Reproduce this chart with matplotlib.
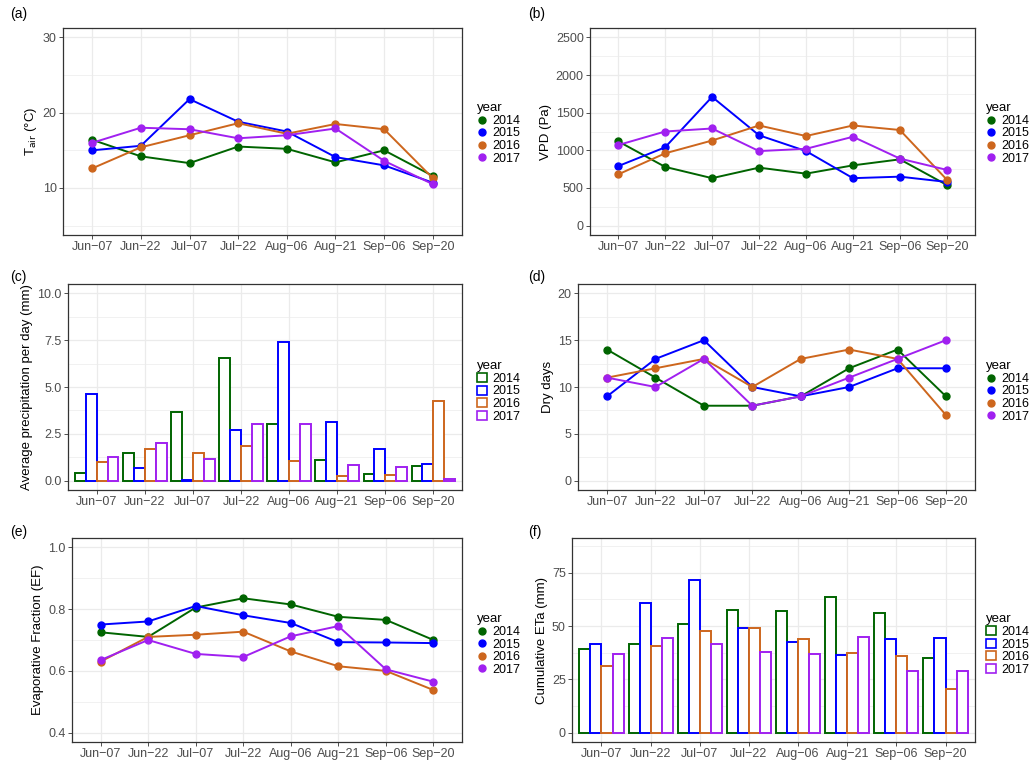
import numpy as np
import matplotlib
matplotlib.use("Agg")
import matplotlib.pyplot as plt
from matplotlib.patches import Patch
from matplotlib.lines import Line2D

plt.rcParams["font.family"] = ["Liberation Sans", "DejaVu Sans"]

dates = ["Jun\u221207", "Jun\u221222", "Jul\u221207", "Jul\u221222", "Aug\u221206", "Aug\u221221", "Sep\u221206", "Sep\u221220"]
years = ["2014", "2015", "2016", "2017"]
colors = ["#006400", "#0000FF", "#CD661D", "#A020F0"]

tair = {
    "2014": [16.4, 14.2, 13.3, 15.5, 15.2, 13.4, 15.0, 11.6],
    "2015": [15.0, 15.6, 21.8, 18.8, 17.5, 14.1, 13.0, 10.7],
    "2016": [12.6, 15.4, 17.0, 18.6, 17.2, 18.5, 17.8, 11.3],
    "2017": [16.0, 18.0, 17.8, 16.6, 17.0, 17.9, 13.6, 10.5],
}
vpd = {
    "2014": [1120, 780, 630, 770, 690, 800, 880, 540],
    "2015": [790, 1040, 1710, 1200, 990, 630, 650, 580],
    "2016": [680, 960, 1130, 1330, 1190, 1330, 1270, 610],
    "2017": [1070, 1250, 1290, 990, 1020, 1180, 890, 740],
}
precip = {
    "2014": [0.4, 1.5, 3.65, 6.55, 3.05, 1.1, 0.35, 0.8],
    "2015": [4.65, 0.65, 0.05, 2.7, 7.4, 3.15, 1.7, 0.9],
    "2016": [1.0, 1.7, 1.5, 1.85, 1.05, 0.25, 0.3, 4.25],
    "2017": [1.25, 2.0, 1.15, 3.0, 3.05, 0.85, 0.75, 0.1],
}
dry = {
    "2014": [14, 11, 8, 8, 9, 12, 14, 9],
    "2015": [9, 13, 15, 10, 9, 10, 12, 12],
    "2016": [11, 12, 13, 10, 13, 14, 13, 7],
    "2017": [11, 10, 13, 8, 9, 11, 13, 15],
}
ef = {
    "2014": [0.725, 0.71, 0.805, 0.835, 0.815, 0.775, 0.765, 0.70],
    "2015": [0.75, 0.76, 0.81, 0.78, 0.755, 0.693, 0.692, 0.69],
    "2016": [0.63, 0.71, 0.717, 0.727, 0.663, 0.615, 0.60, 0.538],
    "2017": [0.635, 0.70, 0.655, 0.645, 0.712, 0.745, 0.605, 0.565],
}
eta = {
    "2014": [39.5, 41.5, 51, 57.5, 57.2, 63.8, 56.3, 35],
    "2015": [41.5, 61, 71.5, 49, 42.5, 36.5, 44, 44.3],
    "2016": [31.5, 40.5, 47.7, 49, 44, 37.5, 36.2, 20.5],
    "2017": [37, 44.5, 41.5, 38, 37, 45, 29, 29],
}

W, H = 1031, 760
fig = plt.figure(figsize=(W / 100, H / 100), dpi=100)
x = np.arange(len(dates))


def make_ax(l, t, r, b):
    return fig.add_axes([l / W, 1 - b / H, (r - l) / W, (b - t) / H])


def style(ax, ymin, ymax, major, minor, ylabel, fmt, label, lx, ly):
    pad = (ymax - ymin) * 0.05
    ax.set_ylim(ymin - pad, ymax + pad)
    ax.set_xlim(-0.6, len(dates) - 0.4)
    ax.set_xticks(x)
    ax.set_xticklabels(dates)
    ax.set_yticks(major)
    ax.set_yticklabels([fmt.format(v) for v in major])
    ax.set_yticks(minor, minor=True)
    ax.tick_params(axis="y", which="minor", length=0)
    ax.tick_params(colors="#333333", labelcolor="#4D4D4D", labelsize=9, length=3, width=0.6, pad=1.5)
    ax.grid(True, which="major", color="#EBEBEB", lw=0.9)
    ax.grid(True, which="minor", color="#EBEBEB", lw=0.5)
    ax.set_axisbelow(True)
    for s in ax.spines.values():
        s.set_color("#333333")
        s.set_linewidth(0.9)
    ax.set_ylabel(ylabel, fontsize=9.5, labelpad=3)
    fig.text(lx / W, 1 - ly / H, label, fontsize=10, va="center")


def lines(ax, data, lx, ly):
    for yr, c in zip(years, colors):
        ax.plot(x, data[yr], color=c, lw=1.4, marker="o", ms=5)
    hs = [Line2D([], [], color=c, marker="o", lw=0, ms=5) for c in colors]
    legend(hs, lx, ly)


def bars(ax, data, lx, ly):
    w = 0.9 / 4
    for i, (yr, c) in enumerate(zip(years, colors)):
        ax.bar(x - 0.45 + w * (i + 0.5), data[yr], width=w, facecolor="white", edgecolor=c, lw=1.4)
    hs = [Patch(facecolor="white", edgecolor=c, lw=1.2) for c in colors]
    legend(hs, lx, ly)


def legend(hs, lx, ly):
    fig.legend(hs, years, title="year", loc="upper left", bbox_to_anchor=(lx / W, 1 - ly / H),
               frameon=False, fontsize=9, title_fontsize=9.5, handlelength=0.8, handletextpad=0.4,
               labelspacing=0.05, alignment="left", borderpad=0)


ax = make_ax(63, 28, 462, 235)
lines(ax, tair, 471, 96)
style(ax, 5, 30, [10, 20, 30], [5, 15, 25], "T$_{\\rm air}$ (°C)", "{:g}", "(a)", 10, 14)

ax = make_ax(590, 28, 975, 235)
lines(ax, vpd, 980, 96)
style(ax, 0, 2500, [0, 500, 1000, 1500, 2000, 2500], np.arange(250, 2500, 500),
      "VPD (Pa)", "{:g}", "(b)", 528, 14)

ax = make_ax(68, 284, 462, 490)
bars(ax, precip, 471, 354)
style(ax, 0, 10, [0, 2.5, 5, 7.5, 10], [1.25, 3.75, 6.25, 8.75],
      "Average precipitation per day (mm)", "{:.1f}", "(c)", 10, 277)

ax = make_ax(578, 284, 975, 490)
lines(ax, dry, 980, 354)
style(ax, 0, 20, [0, 5, 10, 15, 20], [2.5, 7.5, 12.5, 17.5], "Dry days", "{:g}", "(d)", 528, 277)

ax = make_ax(72, 538, 462, 742)
lines(ax, ef, 471, 607)
style(ax, 0.4, 1.0, [0.4, 0.6, 0.8, 1.0], [0.5, 0.7, 0.9], "Evaporative Fraction (EF)",
      "{:.1f}", "(e)", 10, 532)

ax = make_ax(572, 538, 975, 742)
bars(ax, eta, 980, 607)
style(ax, 0, 87, [0, 25, 50, 75], [12.5, 37.5, 62.5, 87.5], "Cumulative ETa (mm)", "{:g}", "(f)", 528, 532)

fig.savefig("out.png", dpi=100)
